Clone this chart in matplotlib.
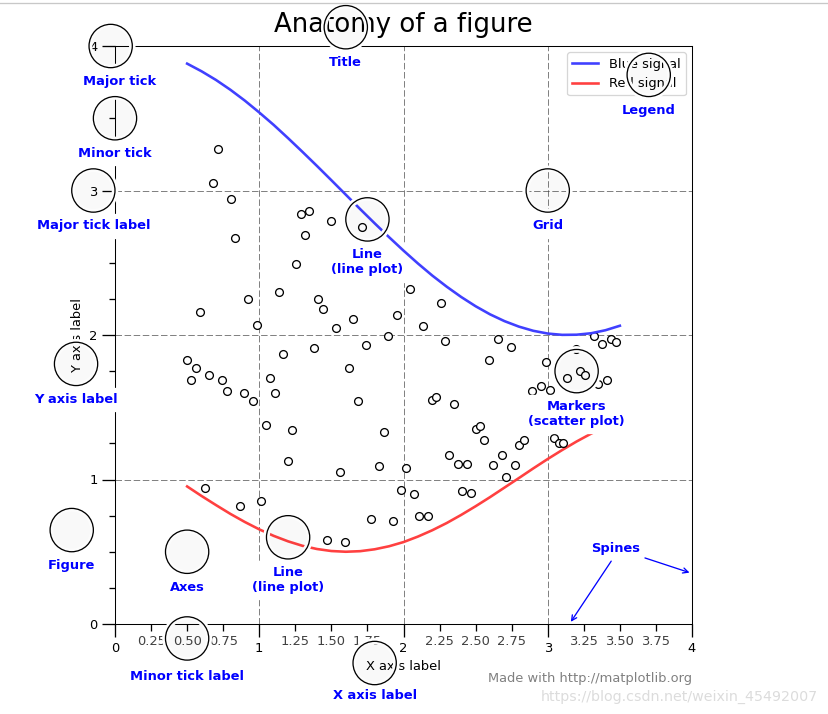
import matplotlib
matplotlib.use("Agg")
import matplotlib.pyplot as plt
from matplotlib.ticker import AutoMinorLocator, MultipleLocator, FuncFormatter
from matplotlib.patches import Circle
from matplotlib.patheffects import withStroke
from matplotlib.lines import Line2D

# ---- data ----
line_x = [0.5, 0.6, 0.7, 0.8, 0.9, 1.0, 1.1, 1.2, 1.3, 1.4, 1.5, 1.6, 1.7, 1.8, 1.9, 2.0,
          2.1, 2.2, 2.3, 2.4, 2.5, 2.6, 2.7, 2.8, 2.9, 3.0, 3.1, 3.2, 3.3, 3.4, 3.5]
blue_signal = [3.878, 3.825, 3.765, 3.697, 3.622, 3.540, 3.454, 3.362, 3.267, 3.170, 3.071,
               2.971, 2.871, 2.773, 2.677, 2.584, 2.495, 2.411, 2.334, 2.263, 2.199, 2.143,
               2.096, 2.058, 2.029, 2.010, 2.001, 2.002, 2.012, 2.033, 2.064]
red_signal = [0.952, 0.886, 0.823, 0.762, 0.706, 0.655, 0.610, 0.572, 0.541, 0.519, 0.505,
              0.500, 0.504, 0.517, 0.538, 0.567, 0.605, 0.649, 0.699, 0.755, 0.815, 0.878,
              0.944, 1.010, 1.077, 1.142, 1.204, 1.263, 1.317, 1.366, 1.408]

marker_x = [0.500, 0.530, 0.561, 0.591, 0.621, 0.652, 0.682, 0.712, 0.742, 0.773,
            0.803, 0.833, 0.864, 0.894, 0.924, 0.955, 0.985, 1.015, 1.045, 1.076,
            1.106, 1.136, 1.167, 1.197, 1.227, 1.258, 1.288, 1.318, 1.348, 1.379,
            1.409, 1.439, 1.470, 1.500, 1.530, 1.561, 1.591, 1.621, 1.652, 1.682,
            1.712, 1.742, 1.773, 1.803, 1.833, 1.864, 1.894, 1.924, 1.955, 1.985,
            2.015, 2.045, 2.076, 2.106, 2.136, 2.167, 2.197, 2.227, 2.258, 2.288,
            2.318, 2.348, 2.379, 2.409, 2.439, 2.470, 2.500, 2.530, 2.561, 2.591,
            2.621, 2.652, 2.682, 2.712, 2.742, 2.773, 2.803, 2.833, 2.864, 2.894,
            2.924, 2.955, 2.985, 3.015, 3.045, 3.076, 3.106, 3.136, 3.167, 3.197,
            3.227, 3.258, 3.288, 3.318, 3.348, 3.379, 3.409, 3.439, 3.470, 3.500]
marker_y = [1.83, 1.69, 1.77, 2.16, 0.94, 1.72, 3.05, 3.29, 1.69, 1.61,
            2.94, 2.67, 0.82, 1.60, 2.25, 1.54, 2.07, 0.85, 1.38, 1.70,
            1.60, 2.30, 1.87, 1.13, 1.34, 2.49, 2.84, 2.69, 2.86, 1.91,
            2.25, 2.18, 0.58, 2.79, 2.05, 1.05, 0.57, 1.77, 2.11, 1.54,
            2.75, 1.93, 0.73, 2.50, 1.09, 1.33, 1.99, 0.71, 2.14, 0.93,
            1.08, 2.32, 0.90, 0.75, 2.06, 0.75, 1.55, 1.57, 2.22, 1.96,
            1.17, 1.52, 1.11, 0.92, 1.11, 0.91, 1.35, 1.37, 1.27, 1.83,
            1.10, 1.97, 1.17, 1.02, 1.92, 1.10, 1.24, 1.27, 1.45, 1.61,
            1.47, 1.65, 1.81, 1.62, 1.29, 1.25, 1.25, 1.70, 1.44, 1.90,
            1.75, 1.72, 1.46, 1.99, 1.66, 1.94, 1.69, 1.97, 1.95, 1.45]

series_labels = ["Blue signal", "Red signal"]
title_text = "Anatomy of a figure"
xlabel_text = "X axis label"
ylabel_text = "Y axis label"

annotations = [  # (circle x, circle y, text x, text y, label)
    (0.50, -0.10, 0.50, -0.32, "Minor tick label"),
    (-0.03, 4.00, 0.03, 3.80, "Major tick"),
    (0.00, 3.50, 0.00, 3.30, "Minor tick"),
    (-0.15, 3.00, -0.15, 2.80, "Major tick label"),
    (1.80, -0.27, 1.80, -0.45, "X axis label"),
    (-0.27, 1.80, -0.27, 1.60, "Y axis label"),
    (1.60, 4.13, 1.60, 3.93, "Title"),
    (1.75, 2.80, 1.75, 2.60, "Line\n(line plot)"),
    (1.20, 0.60, 1.20, 0.40, "Line\n(line plot)"),
    (3.20, 1.75, 3.20, 1.55, "Markers\n(scatter plot)"),
    (3.00, 3.00, 3.00, 2.80, "Grid"),
    (3.70, 3.80, 3.70, 3.60, "Legend"),
    (0.50, 0.50, 0.50, 0.30, "Axes"),
    (-0.30, 0.65, -0.30, 0.45, "Figure"),
]

# ---- figure ----
plt.rcParams['lines.scale_dashes'] = False
DPI = 93.6
fig = plt.figure(figsize=(828 / DPI, 714 / DPI), dpi=DPI)
ax = fig.add_axes([115 / 828, (714 - 624) / 714, 577 / 828, 578 / 714])


def minor_tick(x, pos):
    if not x % 1.0:
        return ""
    return "%.2f" % x


ax.xaxis.set_major_locator(MultipleLocator(1.000))
ax.xaxis.set_minor_locator(AutoMinorLocator(4))
ax.yaxis.set_major_locator(MultipleLocator(1.000))
ax.yaxis.set_minor_locator(AutoMinorLocator(4))
ax.xaxis.set_minor_formatter(FuncFormatter(minor_tick))

ax.set_xlim(0, 4)
ax.set_ylim(0, 4)

ax.tick_params(which='major', width=1.0, length=10)
ax.tick_params(which='minor', width=1.0, length=5, labelsize=10, labelcolor='0.25')

ax.grid(linestyle=(0, (5, 2)), linewidth=0.5, color='.25', zorder=-10)

ax.plot(line_x, blue_signal, c=(0.25, 0.25, 1.00), lw=2, label=series_labels[0], zorder=10)
ax.plot(line_x, red_signal, c=(1.00, 0.25, 0.25), lw=2, label=series_labels[1])
ax.plot(marker_x, marker_y, linewidth=0, marker='o',
        markerfacecolor='w', markeredgecolor='k')

ax.set_title(title_text, fontsize=20, verticalalignment='bottom')
ax.set_xlabel(xlabel_text)
ax.set_ylabel(ylabel_text)
ax.legend(loc='upper right')


def circle(x, y, radius=0.15):
    c = Circle((x, y), radius, clip_on=False, zorder=10, linewidth=1,
               edgecolor='black', facecolor=(0, 0, 0, .0125),
               path_effects=[withStroke(linewidth=5, foreground='w')])
    ax.add_artist(c)


def text(x, y, s):
    ax.text(x, y, s, backgroundcolor="white",
            ha='center', va='top', weight='bold', color='blue')


for cx, cy, tx, ty, label in annotations:
    circle(cx, cy)
    text(tx, ty, label)

color = 'blue'
ax.annotate('Spines', xy=(4.0, 0.35), xytext=(3.3, 0.5),
            weight='bold', color=color,
            arrowprops=dict(arrowstyle='->', connectionstyle="arc3", color=color))
ax.annotate('', xy=(3.15, 0.0), xytext=(3.45, 0.45),
            weight='bold', color=color,
            arrowprops=dict(arrowstyle='->', connectionstyle="arc3", color=color))

ax.text(4.0, -0.4, "Made with http://matplotlib.org",
        fontsize=10, ha="right", color='.5')

# screenshot artefacts: top border line and watermark
fig.add_artist(Line2D([0, 1], [1 - 2.5 / 714, 1 - 2.5 / 714], transform=fig.transFigure,
                      color='#c8c8c8', lw=1))
fig.text(818 / 828, 1 - 701 / 714, "https://blog.csdn.net/weixin_45492007",
         ha='right', va='baseline', fontsize=11, color='#dcdcdc')

fig.savefig("out.png", dpi=DPI)
